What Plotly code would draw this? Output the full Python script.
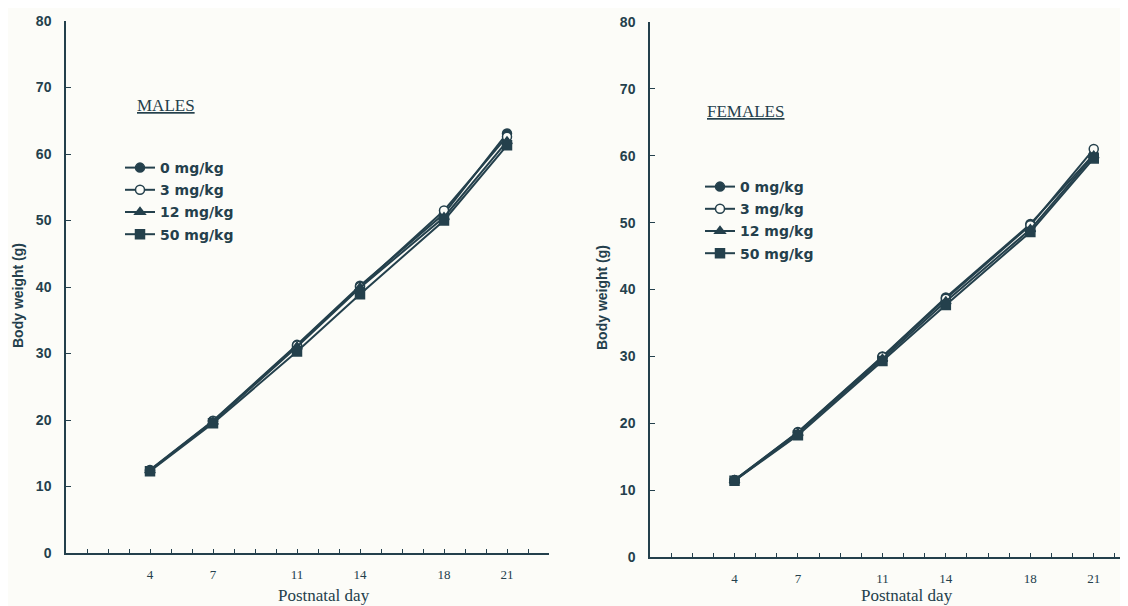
import plotly.graph_objects as go

# ---- data ----
days = [4, 7, 11, 14, 18, 21]
dose_labels = ["0 mg/kg", "3 mg/kg", "12 mg/kg", "50 mg/kg"]

males_0 = [12.5, 19.9, 31.3, 40.2, 51.0, 63.1]
males_3 = [12.4, 19.8, 31.2, 40.0, 51.5, 62.6]
males_12 = [12.4, 19.7, 31.0, 39.9, 50.5, 61.9]
males_50 = [12.3, 19.5, 30.3, 38.9, 50.0, 61.3]

females_0 = [11.5, 18.7, 30.0, 38.8, 49.8, 60.2]
females_3 = [11.5, 18.6, 29.9, 38.6, 49.6, 61.0]
females_12 = [11.4, 18.5, 29.6, 38.2, 49.0, 60.0]
females_50 = [11.4, 18.2, 29.3, 37.7, 48.6, 59.6]

x_tick_days = list(range(1, 24))
x_label_days = [4, 7, 11, 14, 18, 21]
y_ticks = [0, 10, 20, 30, 40, 50, 60, 70, 80]

INK = "#24404c"
BG = "#fcfcf8"
W, H = 1128, 606
OFF = 8  # page body margin


def px(x):
    return (x - OFF) / W


def py(y):
    return 1 - (y - OFF) / H


symbols = ["circle", "circle", "triangle-up", "square"]
fills = [INK, BG, INK, INK]

fig = go.Figure()


def add_panel(series, xa, ya, legend_name):
    for i, (vals, lab) in enumerate(zip(series, dose_labels)):
        fig.add_trace(go.Scatter(
            x=days, y=vals, mode="lines+markers", name=lab,
            xaxis=xa, yaxis=ya, legend=legend_name,
            line=dict(color=INK, width=2),
            marker=dict(size=9, color=fills[i], symbol=symbols[i],
                        line=dict(color=INK, width=1.5)),
            legendgroup=legend_name + lab,
        ))


add_panel([males_0, males_3, males_12, males_50], "x", "y", "legend")
add_panel([females_0, females_3, females_12, females_50], "x2", "y2", "legend2")

ticktext = [str(d) if d in x_label_days else "" for d in x_tick_days]

xcommon = dict(showline=True, linecolor=INK, linewidth=1.5, showgrid=False, zeroline=False,
               ticks="inside", ticklen=4, tickwidth=1.2, tickcolor=INK,
               tickvals=x_tick_days, ticktext=ticktext,
               tickfont=dict(family="Liberation Serif", size=13, color=INK),
               ticklabelstandoff=9, automargin=False, fixedrange=True)
ycommon = dict(showline=True, linecolor=INK, linewidth=1.5, showgrid=False, zeroline=False,
               ticks="inside", ticklen=5, tickwidth=1.2, tickcolor=INK,
               tickvals=y_ticks, range=[0, 80],
               tickfont=dict(family="Liberation Sans", size=14, color=INK, weight=700),
               ticklabelstandoff=10, automargin=False, fixedrange=True)

legend_font = dict(family="DejaVu Sans", size=14, color=INK, weight=700)

fig.update_layout(
    width=W, height=H,
    margin=dict(l=0, r=0, t=0, b=0),
    paper_bgcolor=BG, plot_bgcolor=BG,
    xaxis=dict(xcommon, domain=[px(66), px(549)], range=[0, 23], anchor="y"),
    yaxis=dict(ycommon, domain=[py(553), py(21)], anchor="x"),
    xaxis2=dict(xcommon, domain=[px(650), 1.0], range=[0, 23], anchor="y2"),
    yaxis2=dict(ycommon, domain=[py(557), py(22)], anchor="x2"),
    legend=dict(x=112 / W, y=1 - 144 / H, xanchor="left", yanchor="top",
                bgcolor="rgba(0,0,0,0)", tracegroupgap=1, font=legend_font),
    legend2=dict(x=692 / W, y=1 - 163 / H, xanchor="left", yanchor="top",
                 bgcolor="rgba(0,0,0,0)", tracegroupgap=1, font=legend_font),
    showlegend=True,
)

# panel labels and axis titles
fig.add_annotation(x=px(135), y=py(106), xref="paper", yref="paper", xanchor="left", yanchor="middle",
                   text="<u>MALES</u>", showarrow=False,
                   font=dict(family="Liberation Serif", size=17, color=INK))
fig.add_annotation(x=px(705), y=py(111), xref="paper", yref="paper", xanchor="left", yanchor="middle",
                   text="<u>FEMALES</u>", showarrow=False,
                   font=dict(family="Liberation Serif", size=17, color=INK))
for xc, yc in [(18, 296), (602, 298)]:
    fig.add_annotation(x=px(xc), y=py(yc), xref="paper", yref="paper", textangle=-90,
                       xanchor="center", yanchor="middle",
                       text="Body weight (g)", showarrow=False,
                       font=dict(family="Liberation Sans", size=14, color=INK, weight=700))
for xc, yc in [(324, 595), (907, 595)]:
    fig.add_annotation(x=px(xc), y=py(yc), xref="paper", yref="paper",
                       xanchor="center", yanchor="middle",
                       text="Postnatal day", showarrow=False,
                       font=dict(family="Liberation Serif", size=17, color=INK))

fig.write_html("out.html")
